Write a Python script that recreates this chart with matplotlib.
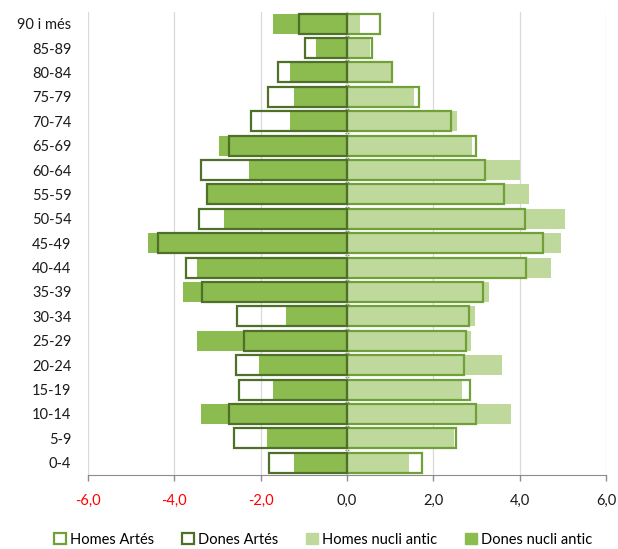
import matplotlib
matplotlib.use("Agg")
import matplotlib.pyplot as plt
from matplotlib.patches import Patch
from matplotlib.ticker import FixedLocator, FuncFormatter, NullFormatter

plt.rcParams['font.family'] = ['Lato', 'DejaVu Sans']

edats = ['0-4', '5-9', '10-14', '15-19', '20-24', '25-29', '30-34', '35-39',
         '40-44', '45-49', '50-54', '55-59', '60-64', '65-69', '70-74',
         '75-79', '80-84', '85-89', '90 i més']

# percentatges (dones en negatiu)
homes_nucli = [1.44, 2.49, 3.80, 2.67, 3.60, 2.88, 2.96, 3.29, 4.73, 4.95,
               5.05, 4.23, 4.01, 2.90, 2.56, 1.56, 1.01, 0.54, 0.30]
dones_nucli = [-1.22, -1.85, -3.39, -1.72, -2.04, -3.48, -1.41, -3.79, -3.48, -4.61,
               -2.85, -3.22, -2.27, -2.97, -1.31, -1.22, -1.31, -0.72, -1.72]
homes_artes = [1.75, 2.52, 2.99, 2.85, 2.72, 2.76, 2.82, 3.16, 4.14, 4.54,
               4.12, 3.64, 3.21, 2.99, 2.42, 1.66, 1.04, 0.57, 0.76]
dones_artes = [-1.81, -2.62, -2.74, -2.51, -2.58, -2.39, -2.54, -3.36, -3.73, -4.37,
               -3.42, -3.24, -3.39, -2.74, -2.23, -1.82, -1.59, -0.97, -1.10]

c_homes_nucli = '#bfd99c'
c_dones_nucli = '#8cbb4f'
c_homes_artes = '#72a038'
c_dones_artes = '#4e7028'

fig = plt.figure(figsize=(6.18, 5.49), dpi=100)
ax = fig.add_axes([0.1424, 0.135, 0.838, 0.844])

y = list(range(len(edats)))
h = 0.82
ax.barh(y, homes_nucli, height=h, color=c_homes_nucli, zorder=2)
ax.barh(y, dones_nucli, height=h, color=c_dones_nucli, zorder=2)
ax.barh(y, homes_artes, height=h, facecolor='none', edgecolor=c_homes_artes,
        linewidth=1.6, zorder=3)
ax.barh(y, dones_artes, height=h, facecolor='none', edgecolor=c_dones_artes,
        linewidth=1.6, zorder=3)

ax.set_xlim(-6, 6)
ax.set_ylim(-0.5, len(edats) - 0.5)
ax.set_xticks([-6, -4, -2, 0, 2, 4, 6])
ax.xaxis.set_major_formatter(FuncFormatter(lambda v, p: f'{v:.1f}'.replace('.', ',')))
ax.grid(axis='x', color='#d9d9d9', linewidth=0.9, zorder=0)
ax.set_axisbelow(True)

ax.set_yticks(y)
ax.set_yticklabels(edats)
ax.tick_params(axis='y', length=0, pad=12, labelsize=10.5, labelcolor='#1a1a1a')
ax.tick_params(axis='x', length=4, width=1, color='#8c8c8c', labelsize=10.5, pad=10)
for lab, v in zip(ax.get_xticklabels(), ax.get_xticks()):
    lab.set_color('#ff0000' if v < 0 else '#1a1a1a')

for s in ['top', 'right', 'left']:
    ax.spines[s].set_visible(False)
ax.spines['bottom'].set_color('#8c8c8c')

# eix central a 0
eix = ax.secondary_yaxis(0.5)
eix.spines['left'].set_color('#8c8c8c')
eix.spines['left'].set_linewidth(1.2)
eix.yaxis.set_major_locator(FixedLocator([v - 0.5 for v in y]))
eix.yaxis.set_major_formatter(NullFormatter())
eix.tick_params(axis='y', length=3, direction='inout', color='#8c8c8c')

handles = [
    Patch(facecolor='white', edgecolor=c_homes_artes, linewidth=1.6, label='Homes Artés'),
    Patch(facecolor='white', edgecolor=c_dones_artes, linewidth=1.6, label='Dones Artés'),
    Patch(facecolor=c_homes_nucli, edgecolor=c_homes_nucli, label='Homes nucli antic'),
    Patch(facecolor=c_dones_nucli, edgecolor=c_dones_nucli, label='Dones nucli antic'),
]
fig.legend(handles=handles, loc='center', bbox_to_anchor=(0.523, 0.017), ncol=4,
           frameon=False, fontsize=10.5, handlelength=0.8, handleheight=0.8,
           handletextpad=0.3, columnspacing=1.9, borderaxespad=0)

fig.savefig('out.png', dpi=100)
